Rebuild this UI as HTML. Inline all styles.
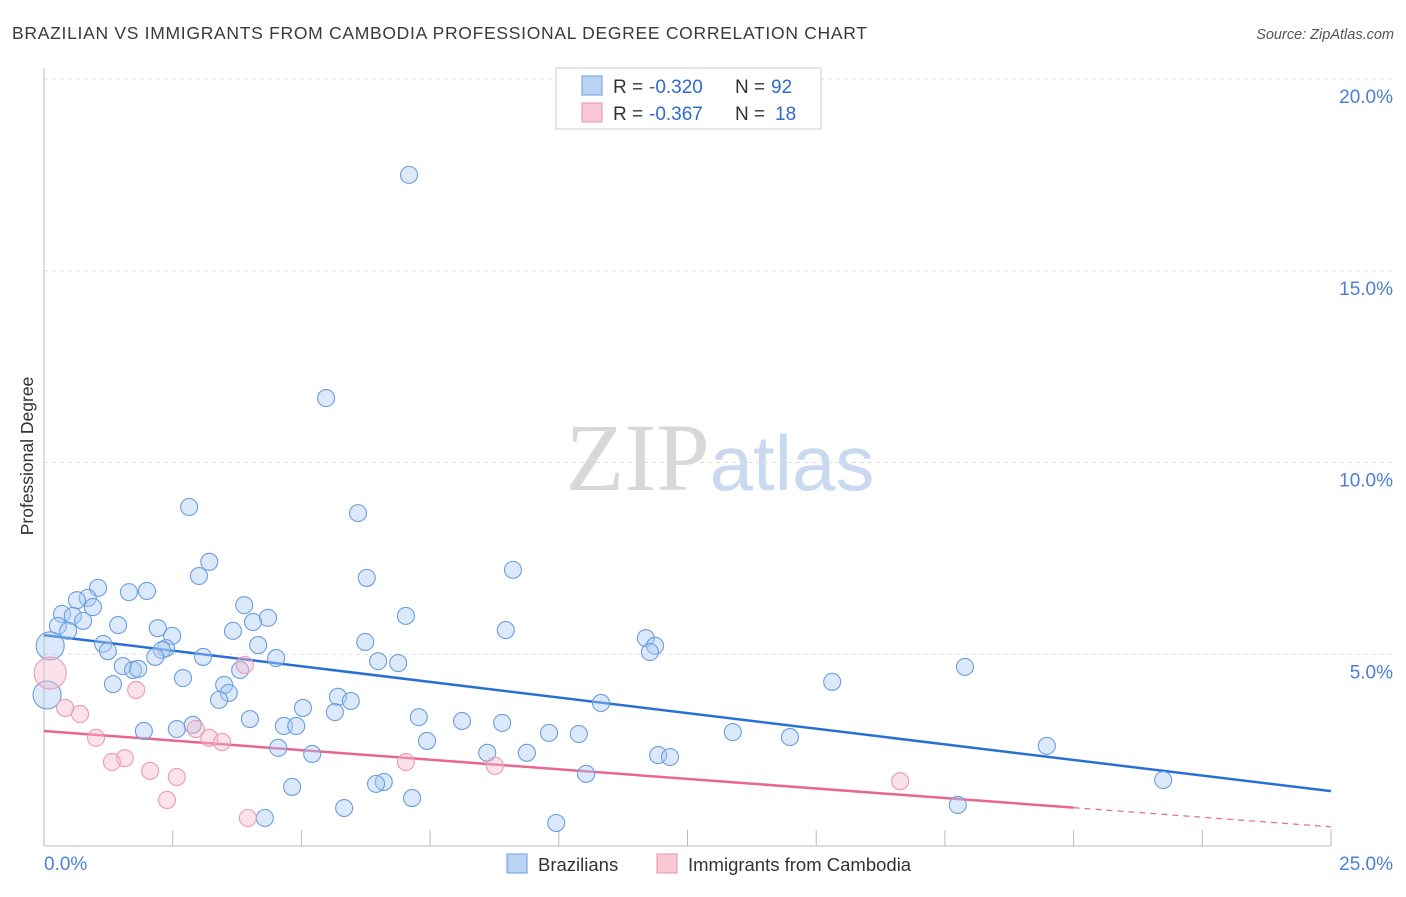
<!DOCTYPE html>
<html><head><meta charset="utf-8"><style>
body{margin:0;background:#fff;font-family:"Liberation Sans",sans-serif;}
</style></head><body>
<svg id="chart" width="1406" height="892" xmlns="http://www.w3.org/2000/svg" font-family="Liberation Sans, sans-serif">
<text x="12" y="39" font-size="17.5" fill="#3a3a3a" textLength="855" lengthAdjust="spacing">BRAZILIAN VS IMMIGRANTS FROM CAMBODIA PROFESSIONAL DEGREE CORRELATION CHART</text>
<text x="1394" y="39" font-size="14.5" fill="#555" font-style="italic" text-anchor="end">Source: ZipAtlas.com</text>
<text x="720" y="490" font-size="96" text-anchor="middle"><tspan font-family="Liberation Serif, serif" fill="#d8d8d8">ZIP</tspan><tspan fill="#c9d9ef" font-size="78">atlas</tspan></text>
<g id="grid"></g>
<g id="axes"></g>
<g id="lines"></g>
<g id="points"></g>
<text transform="translate(33,456) rotate(-90)" font-size="17.5" fill="#333" text-anchor="middle">Professional Degree</text>
<g font-size="19">
<rect x="556" y="68" width="265" height="61" fill="#fff" stroke="#ccc"/>
<rect x="582" y="76" width="20" height="19" fill="#b9d3f3" stroke="#6d9fe0"/>
<text x="613" y="93" fill="#333">R =</text><text x="649" y="93" fill="#2d6bd0">-0.320</text>
<text x="735" y="93" fill="#333">N =</text><text x="771" y="93" fill="#2d6bd0">92</text>
<rect x="582" y="103" width="20" height="19" fill="#f8c8d6" stroke="#e890aa"/>
<text x="613" y="120" fill="#333">R =</text><text x="649" y="120" fill="#2d6bd0">-0.367</text>
<text x="735" y="120" fill="#333">N =</text><text x="775" y="120" fill="#2d6bd0">18</text>
</g>
<g>
<rect x="507" y="854" width="20" height="19" fill="#b9d3f3" stroke="#6d9fe0"/>
<text x="538" y="871" font-size="18.5" fill="#333">Brazilians</text></g>
<g>
<rect x="657" y="854" width="20" height="19" fill="#f8c8d6" stroke="#e890aa"/>
<text x="688" y="871" font-size="18.5" fill="#333">Immigrants from Cambodia</text></g>
</svg>
<script>
const blueX=[7.09,5.48,2.82,6.10,3.21,9.11,3.01,6.27,1.05,1.65,2.00,0.85,0.64,0.35,0.95,0.56,0.76,0.27,0.47,3.89,4.35,4.06,1.44,7.03,2.21,3.67,2.49,8.97,11.69,6.24,4.16,1.15,1.24,2.37,2.29,2.16,3.09,4.51,6.49,6.88,11.87,11.77,17.89,1.53,1.73,1.83,3.81,2.70,1.34,15.31,3.50,3.59,3.40,5.71,5.96,10.82,5.03,5.65,4.00,7.28,8.12,8.90,1.94,2.58,2.89,4.66,4.90,13.38,9.81,10.39,14.49,7.44,4.55,19.48,5.21,8.61,9.38,11.93,12.16,10.53,21.74,4.82,6.60,6.45,7.15,5.83,17.75,4.29,9.95,0.12,0.06];
const blueY=[17.50,11.68,8.84,8.68,7.41,7.20,7.04,6.99,6.73,6.62,6.65,6.47,6.41,6.05,6.23,6.00,5.87,5.74,5.61,6.28,5.95,5.84,5.76,6.00,5.68,5.61,5.48,5.63,5.42,5.32,5.24,5.27,5.08,5.16,5.11,4.93,4.93,4.90,4.82,4.77,5.22,5.06,4.67,4.69,4.59,4.62,4.59,4.38,4.22,4.28,4.20,3.99,3.81,3.89,3.78,3.73,3.60,3.49,3.31,3.36,3.26,3.21,3.00,3.05,3.16,3.13,3.13,2.97,2.95,2.92,2.84,2.74,2.56,2.61,2.40,2.43,2.43,2.37,2.32,1.88,1.72,1.54,1.67,1.62,1.25,0.99,1.07,0.73,0.60,5.22,3.94];
const blueBig=[89,90];
const pinkX=[0.41,0.70,1.79,3.90,1.01,1.57,1.32,2.06,2.58,2.39,2.95,3.21,3.46,7.03,8.76,3.96,16.63,0.12];
const pinkY=[3.60,3.44,4.07,4.72,2.82,2.29,2.19,1.96,1.80,1.20,3.05,2.82,2.71,2.19,2.09,0.73,1.69,4.51];
const pinkBig=[17];
const blueTrend=[5.50,1.43];
const pinkTrend=[3.00,0.50];
const yTicks=[5,10,15,20];
const xTickVals=[0,2.5,5,7.5,10,12.5,15,17.5,20,22.5,25];
const NS="http://www.w3.org/2000/svg";
const X=v=>44+v*(1331-44)/25;
const Y=v=>846-v*38.35;
function mk(parent,tag,attrs){const e=document.createElementNS(NS,tag);for(const k in attrs)e.setAttribute(k,attrs[k]);document.getElementById(parent).appendChild(e);return e;}
yTicks.forEach(t=>{
 const l=mk('grid','line',{x1:44,x2:1393,y1:Y(t),y2:Y(t),stroke:'#ddd','stroke-dasharray':'4,4'});
 
 
 const tx=mk('grid','text',{x:1393,y:Y(t)+24,'font-size':19,fill:'#4a80d8','text-anchor':'end'});
 tx.textContent=t.toFixed(1)+'%';
 
 
});
const ax=mk('axes','line',{x1:44,x2:1331,y1:846,y2:846,stroke:'#bbb'});


const ay=mk('axes','line',{x1:44,x2:44,y1:68,y2:846,stroke:'#bbb'});


xTickVals.forEach(t=>{
 const l=mk('axes','line',{x1:X(t),x2:X(t),y1:830,y2:846,stroke:'#bbb'});
 
 
});
const xl0=mk('axes','text',{x:44,y:870,'font-size':19,fill:'#4a80d8'});xl0.textContent='0.0%';


const xl1=mk('axes','text',{x:1393,y:870,'font-size':19,fill:'#4a80d8','text-anchor':'end'});xl1.textContent='25.0%';


blueX.forEach((v,i)=>{
 const big=blueBig.includes(i);
 const c=mk('points','circle',{cx:X(v),cy:Y(blueY[i]),r:big?14:8.5,fill:'rgba(170,202,242,0.42)',stroke:'#6a9ee0','stroke-width':1.1});
 
 
});
pinkX.forEach((v,i)=>{
 const big=pinkBig.includes(i);
 const c=mk('points','circle',{cx:X(v),cy:Y(pinkY[i]),r:big?16:8.5,fill:'rgba(246,185,204,0.42)',stroke:'#ec9ab3','stroke-width':1.1});
 
 
});
const bl=mk('lines','line',{x1:X(0),y1:Y(blueTrend[0]),x2:X(25),y2:Y(blueTrend[1]),stroke:'#2a6fd6','stroke-width':2.5});


const pm=pinkTrend[0]+(pinkTrend[1]-pinkTrend[0])*0.8;
const pl=mk('lines','line',{x1:X(0),y1:Y(pinkTrend[0]),x2:X(20),y2:Y(pm),stroke:'#e86690','stroke-width':2.5});


const pd=mk('lines','line',{x1:X(20),y1:Y(pm),x2:X(25),y2:Y(pinkTrend[1]),stroke:'#e86690','stroke-width':1.2,'stroke-dasharray':'6,5'});


</script>
</body></html>
